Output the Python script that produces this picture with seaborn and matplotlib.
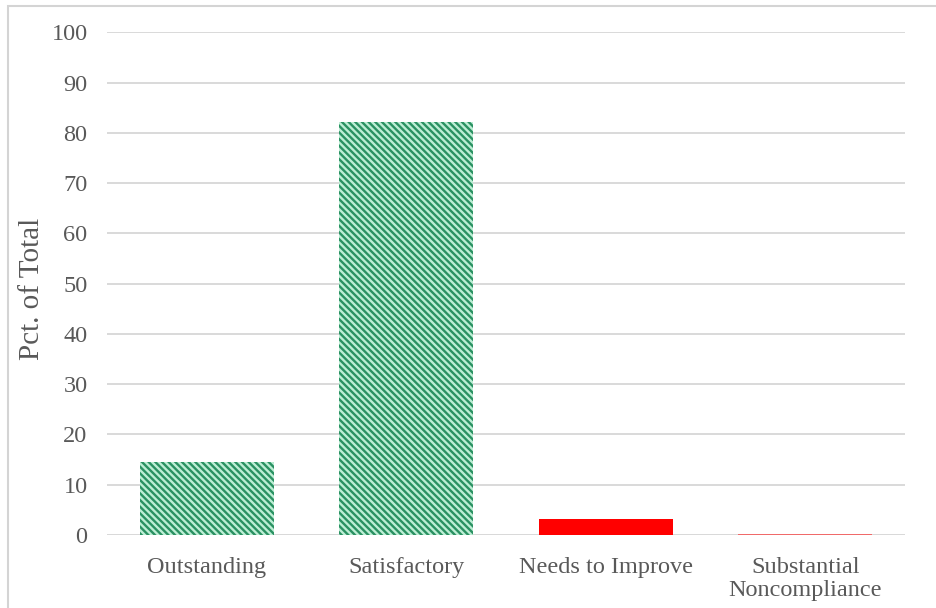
import matplotlib
matplotlib.use("Agg")
import matplotlib.pyplot as plt
import matplotlib.patches as mpatches
import seaborn as sns
import pandas as pd

categories = ["Outstanding", "Satisfactory", "Needs to Improve", "Substantial\nNoncompliance"]
pct_of_total = [14.5, 82.1, 3.1, 0.3]
y_ticks = [0, 10, 20, 30, 40, 50, 60, 70, 80, 90, 100]

sns.set_theme(style="white")
plt.rcParams["font.family"] = ["Liberation Serif", "DejaVu Serif"]
plt.rcParams["hatch.linewidth"] = 1.7

text_grey = "#595959"
grid_grey = "#d9d9d9"

df = pd.DataFrame({"category": categories, "pct": pct_of_total})

fig = plt.figure(figsize=(9.36, 6.08), dpi=100)
ax = fig.add_axes([0.1143, 0.120, 0.8525, 0.827])

sns.barplot(data=df, x="category", y="pct", ax=ax, width=0.67,
            color="#c8f0dc", linewidth=0, zorder=3)

bar_styles = [
    dict(facecolor="#bdeed5", edgecolor="#2a9162", hatch="\\\\\\\\\\"),
    dict(facecolor="#bdeed5", edgecolor="#2a9162", hatch="\\\\\\\\\\"),
    dict(facecolor="#ff0000", edgecolor="#ff0000", hatch=None),
    dict(facecolor="#f06a6a", edgecolor="#f06a6a", hatch=None),
]
for patch, st in zip(ax.patches, bar_styles):
    patch.set_facecolor(st["facecolor"])
    patch.set_edgecolor(st["edgecolor"])
    patch.set_linewidth(0)
    if st["hatch"]:
        patch.set_hatch(st["hatch"])

ax.set_ylim(0, 100)
ax.set_xlim(-0.5, 3.5)
ax.set_yticks(y_ticks)
ax.yaxis.grid(True, color=grid_grey, linewidth=1.4, zorder=0)
ax.set_axisbelow(True)
for s in ax.spines.values():
    s.set_visible(False)
ax.axhline(0, color=grid_grey, linewidth=1.4, zorder=2)

ax.tick_params(axis="both", length=0, labelsize=17.5, colors=text_grey)
ax.tick_params(axis="y", pad=14)
ax.tick_params(axis="x", pad=16)
ax.set_xlabel("")
ax.set_ylabel("Pct. of Total", fontsize=21, color=text_grey)
ax.yaxis.set_label_coords(-0.078, 0.49)
for lbl in ax.get_xticklabels():
    lbl.set_linespacing(1.1)

# chart-area frame (extends beyond the right and bottom edges)
frame = mpatches.Rectangle((8 / 936, -0.05), 1.2, 1 - 5.5 / 608 + 0.05,
                           transform=fig.transFigure, fill=False,
                           edgecolor="#d4d4d4", linewidth=1.5)
fig.add_artist(frame)

fig.savefig("out.png", dpi=100, facecolor="white")
